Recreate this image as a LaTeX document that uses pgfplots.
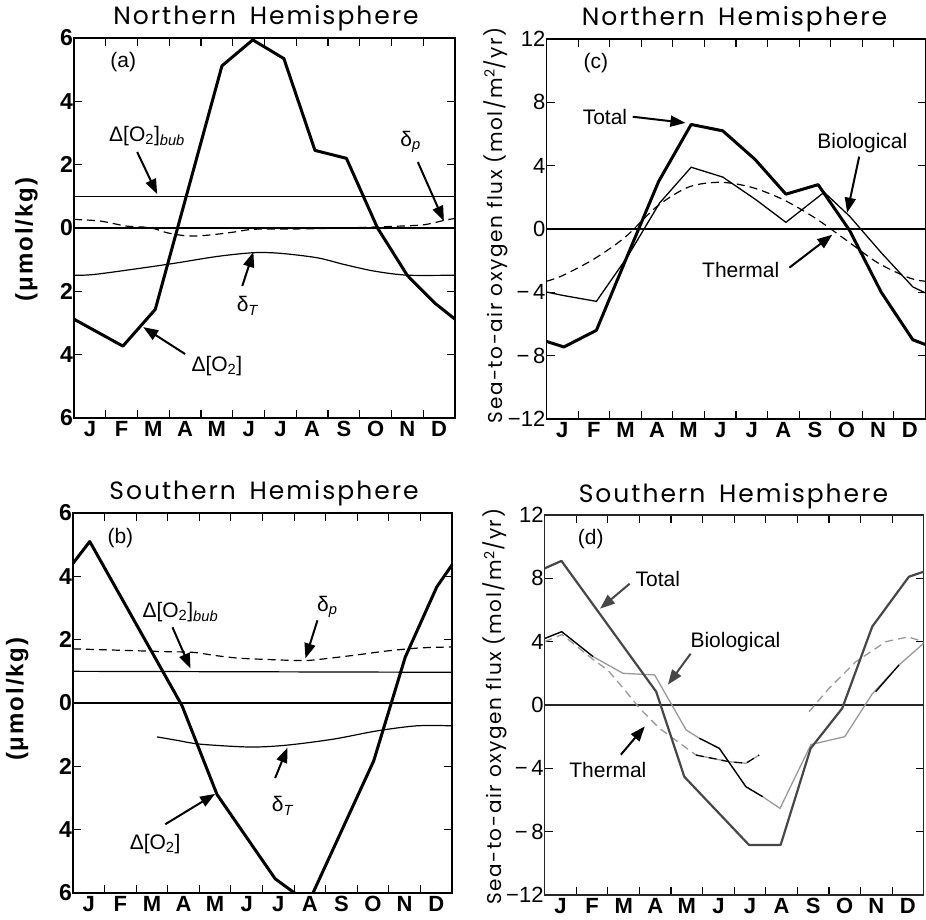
\documentclass[border=0pt]{standalone}
\usepackage{fontspec}
\setmainfont{Liberation Sans}
\newfontfamily\titlefont[LetterSpace=8]{Poppins}
\newfontfamily\labfont[LetterSpace=8]{Poppins}
\newfontfamily\ulabfont[LetterSpace=8]{Liberation Sans}
\usepackage{pgfplots}
\pgfplotsset{compat=1.18}
\usetikzlibrary{arrows.meta}
\definecolor{dgray}{gray}{0.28}
\definecolor{mgray}{gray}{0.6}

\newcommand\annf{\fontsize{21}{21}\selectfont}
\tikzset{
  ann/.style={line width=2pt, -{Triangle[length=15pt,width=11pt]}},
}
\pgfplotsset{
 panel/.style={
  scale only axis, width=379pt, height=380pt, xmin=0, xmax=12,
  axis line style={line width=1.4pt},
  xtick={1,2,...,11}, xticklabels={},
  extra x ticks={0.5,1.5,...,11.5},
  extra x tick labels={J,F,M,A,M,J,J,A,S,O,N,D},
  extra x tick style={major tick length=0pt, xticklabel style={font=\fontsize{22}{22}\selectfont\bfseries}},
  tick align=inside, major tick length=8pt,
  every tick/.style={black, line width=1.1pt},
  xtick pos=both, ytick pos=both,
  title style={font=\titlefont\fontsize{25}{25}\selectfont, anchor=base},
 },
 lp/.style={panel, ymin=-6, ymax=6, ytick={-6,-4,...,6}, yticklabels={6,4,2,0,2,4,6},
  yticklabel style={font=\fontsize{23}{23}\selectfont\bfseries, inner xsep=1pt},
  ylabel={(μmol/kg)}, ylabel style={font=\ulabfont\fontsize{24}{24}\selectfont\bfseries, anchor=center}},
 rp/.style={panel, ymin=-12, ymax=12, ytick={-12,-8,...,12}, yticklabels={−12,−\,8,−\,4,0,4,8,12},
  yticklabel style={font=\fontsize{22}{22}\selectfont, inner xsep=1pt},
  ylabel={Sea-to-air oxygen flux (mol/m\textsuperscript{2}/yr)},
  ylabel style={font=\labfont\fontsize{20}{20}\selectfont, anchor=center}},
}

\begin{document}
\begin{tikzpicture}
\useasboundingbox (0,0) rectangle (926pt,919pt);

% ---------------- (a) ----------------
\begin{axis}[lp, at={(74pt,501pt)}, anchor=south west, width=381pt,
  title={Northern\hspace{5pt} Hemisphere}, title style={at={(axis description cs:0.504,1.02)}},
  ylabel style={at={(axis description cs:-0.125,0.47)}}]
\addplot[black, line width=2.2pt] coordinates {(0,0) (12,0)};
\addplot[black, line width=1.2pt] coordinates {(0,1.0) (12,1.0)};
\addplot[black, line width=1.2pt, dash pattern=on 8pt off 5pt, smooth] coordinates {
 (0,0.27) (0.82,0.22) (1.66,0.06) (2.4,0.01) (2.93,-0.15) (3.56,-0.25) (4.19,-0.23)
 (5.03,-0.13) (5.66,-0.04) (7,-0.03) (8.5,0.0) (10,0.05) (11,0.1) (11.7,0.25) (12,0.3)};
\addplot[black, line width=1.2pt, smooth] coordinates {
 (0,-1.49) (0.7,-1.46) (2.93,-1.15) (4.5,-0.9) (5.66,-0.78) (6.5,-0.8) (7.66,-0.94)
 (8.5,-1.15) (9.45,-1.36) (10.5,-1.49) (12,-1.49)};
\addplot[black, line width=3pt, line join=round] coordinates {
 (0,-2.88) (1.54,-3.73) (2.56,-2.57) (4.66,5.12) (5.63,5.94) (6.61,5.35) (7.59,2.45)
 (8.58,2.2) (9.56,0.0) (10.5,-1.5) (11.35,-2.36) (12,-2.88)};
\node[font=\annf] at (axis cs:1.55,5.24) {(a)};
\node[font=\annf] at (axis cs:2.3,2.9) {Δ[O\textsubscript{2}]\textsubscript{\itshape bub}};
\draw[ann] (axis cs:1.99,2.4) -- (axis cs:2.62,1.07);
\node[font=\annf] at (axis cs:10.6,2.72) {δ\textsubscript{\itshape p}};
\draw[ann] (axis cs:10.83,2.08) -- (axis cs:11.65,0.22);
\node[font=\annf] at (axis cs:5.46,-2.46) {δ\textsubscript{\itshape T}};
\draw[ann] (axis cs:5.3,-1.83) -- (axis cs:5.65,-0.76);
\node[font=\annf] at (axis cs:4.5,-4.36) {Δ[O\textsubscript{2}]};
\draw[ann] (axis cs:3.5,-3.98) -- (axis cs:2.18,-3.13);
\end{axis}

% ---------------- (c) ----------------
\begin{axis}[rp, at={(546.5pt,500pt)}, anchor=south west,
  title={Northern\hspace{5pt} Hemisphere}, title style={at={(axis description cs:0.496,1.02)}},
  ylabel style={at={(axis description cs:-0.135,0.51)}}]
\addplot[black, line width=2.2pt] coordinates {(0,0) (12,0)};
\addplot[black, line width=1.2pt, dash pattern=on 8pt off 5pt, smooth] coordinates {
 (0,-3.3) (0.5,-2.95) (1.5,-1.9) (2.5,-0.5) (3.5,1.43) (4.5,2.65) (5.5,2.95) (6.5,2.63)
 (7.5,1.85) (8.5,0.7) (9.5,-0.72) (10.5,-2.15) (11.5,-3.1) (12,-3.3)};
\addplot[black, line width=1.3pt] coordinates {
 (0,-3.98) (0.53,-4.2) (1.58,-4.57) (2.58,-1.7) (3.58,1.64) (4.58,3.9) (5.58,3.28)
 (6.63,1.85) (7.58,0.42) (8.79,2.32) (9.6,0.8) (10.6,-1.5) (11.6,-3.66) (12,-4.04)};
\addplot[black, line width=3pt, line join=round] coordinates {
 (0,-7.1) (0.55,-7.45) (1.58,-6.4) (2.58,-1.6) (3.55,3.0) (4.58,6.6) (5.58,6.2)
 (6.6,4.4) (7.58,2.2) (8.6,2.8) (9.6,-0.1) (10.6,-4.0) (11.6,-7.0) (12,-7.3)};
\node[font=\annf] at (axis cs:1.56,10.5) {(c)};
\node[font=\annf] at (axis cs:1.85,7.1) {Total};
\draw[ann] (axis cs:2.73,7.09) -- (axis cs:4.4,6.7);
\node[font=\annf] at (axis cs:10.0,5.45) {Biological};
\draw[ann] (axis cs:9.9,4.57) -- (axis cs:9.52,1.03);
\node[font=\annf] at (axis cs:6.15,-2.57) {Thermal};
\draw[ann] (axis cs:7.69,-2.44) -- (axis cs:9.05,-0.36);
\end{axis}

% ---------------- (b) ----------------
\begin{axis}[lp, at={(73pt,26pt)}, anchor=south west,
  title={Southern\hspace{5pt} Hemisphere}, title style={at={(axis description cs:0.504,1.02)}},
  ylabel style={at={(axis description cs:-0.147,0.51)}}]
\addplot[black, line width=2.2pt] coordinates {(0,0) (12,0)};
\addplot[black, line width=1.2pt] coordinates {(0,1.0) (12,0.97)};
\addplot[black, line width=1.2pt, dash pattern=on 8pt off 5pt, smooth] coordinates {
 (0,1.71) (1,1.68) (2,1.65) (3,1.62) (3.8,1.6) (4.5,1.5) (5.2,1.42) (6,1.38) (7.3,1.34)
 (8,1.4) (9,1.52) (10,1.65) (11,1.74) (12,1.77)};
\addplot[black, line width=1.2pt, smooth] coordinates {
 (2.66,-1.07) (3.3,-1.18) (4.03,-1.3) (5.61,-1.39) (6.78,-1.33) (8.25,-1.14) (9.63,-0.88)
 (10.89,-0.72) (12,-0.72)};
\addplot[black, line width=3pt, line join=round] coordinates {
 (0,4.41) (0.53,5.1) (3.45,-0.08) (4.56,-2.89) (6.4,-5.55) (7.45,-6.32) (9.52,-1.83)
 (10.52,1.45) (11.52,3.67) (12,4.36)};
\node[font=\annf] at (axis cs:1.5,5.2) {(b)};
\node[font=\annf] at (axis cs:3.4,2.87) {Δ[O\textsubscript{2}]\textsubscript{\itshape bub}};
\draw[ann] (axis cs:3.15,2.39) -- (axis cs:3.72,1.09);
\node[font=\annf] at (axis cs:8.05,3.03) {δ\textsubscript{\itshape p}};
\draw[ann] (axis cs:7.74,2.61) -- (axis cs:7.36,1.41);
\node[font=\annf] at (axis cs:6.63,-3.25) {δ\textsubscript{\itshape T}};
\draw[ann] (axis cs:6.4,-2.37) -- (axis cs:6.79,-1.41);
\node[font=\annf] at (axis cs:2.6,-4.46) {Δ[O\textsubscript{2}]};
\draw[ann] (axis cs:2.92,-3.83) -- (axis cs:4.5,-2.87);
\end{axis}

% ---------------- (d) ----------------
\begin{axis}[rp, at={(544.7pt,24pt)}, anchor=south west,
  axis line style={line width=1.2pt, black!85},
  title={Southern\hspace{5pt} Hemisphere}, title style={at={(axis description cs:0.498,1.017)}},
  ylabel style={at={(axis description cs:-0.131,0.495)}}]
\addplot[black!85, line width=1.3pt] coordinates {(0,0) (12,0)};
% Thermal
\addplot[mgray, line width=1.3pt, dash pattern=on 8pt off 5pt] coordinates {
 (0,4.0) (0.55,4.45) (1.55,2.85) (2.0,2.2) (2.58,0.84) (3.0,-0.2) (3.63,-1.47)
 (4.79,-3.16) (5.84,-3.58) (6.37,-3.68) (6.79,-3.16)};
\addplot[mgray, line width=1.3pt, dash pattern=on 8pt off 5pt] coordinates {
 (8.37,-0.42) (9.0,1.05) (9.85,2.73) (10.8,4.0) (11.5,4.3) (12,4.0)};
\addplot[black, line width=1.3pt, dash pattern=on 8pt off 5pt] coordinates {
 (4.79,-3.16) (5.84,-3.58) (6.37,-3.68) (6.79,-3.16)};
% Biological
\addplot[mgray, line width=1.3pt] coordinates {
 (0,4.2) (0.54,4.63) (1.53,3.06) (2.48,2.0) (3.48,1.9) (4.48,-1.58) (4.9,-2.1)
 (5.53,-2.74) (6.37,-5.16) (6.9,-5.79) (7.45,-6.53) (8.43,-2.5) (9.5,-2.0) (10.37,0.7)
 (11.22,2.53) (12,3.9)};
\addplot[black, line width=1.3pt] coordinates {(0,4.2) (0.54,4.63) (1.53,3.06)};
\addplot[black, line width=1.3pt] coordinates {(4.9,-2.1) (5.53,-2.74) (6.37,-5.16) (6.9,-5.79)};
\addplot[black, line width=1.3pt] coordinates {(10.48,0.84) (11.22,2.53)};
% Total
\addplot[dgray, line width=2.2pt, line join=round] coordinates {
 (0,8.63) (0.53,9.1) (3.53,0.84) (4.42,-4.53) (6.47,-8.84) (7.47,-8.84) (8.42,-2.74)
 (9.42,-0.21) (10.37,4.95) (11.53,8.1) (12,8.42)};
\node[font=\annf] at (axis cs:1.46,10.5) {(d)};
\node[font=\annf] at (axis cs:3.58,7.98) {Total};
\draw[ann, dgray] (axis cs:2.69,7.66) -- (axis cs:1.75,6.08);
\node[font=\annf] at (axis cs:6.04,4.0) {Biological};
\draw[ann, dgray] (axis cs:4.62,3.24) -- (axis cs:3.9,1.28);
\node[font=\annf] at (axis cs:2.0,-4.09) {Thermal};
\draw[ann] (axis cs:2.41,-3.14) -- (axis cs:3.17,-1.35);
\end{axis}
\end{tikzpicture}
\end{document}
